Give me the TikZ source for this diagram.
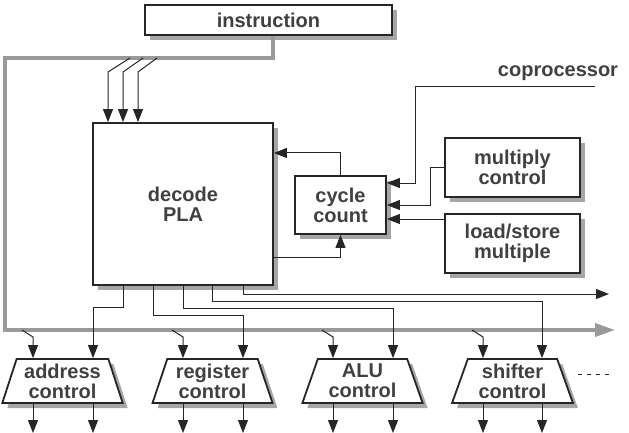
\documentclass[tikz,border=0pt]{standalone}
\usepackage{fontspec}
\setmainfont{Liberation Sans}
\usetikzlibrary{positioning,shapes.geometric,shadows,arrows.meta}

\tikzstyle{block} = [rectangle, draw=black!85, line width=1.8pt, fill=white, align=center, inner sep=0pt, drop shadow={shadow xshift=5pt, shadow yshift=-5pt, fill=black!35, opacity=1}]
\tikzstyle{tblock} = [trapezium, trapezium left angle=71, trapezium right angle=71, trapezium stretches=true, draw=black!85, line width=1.8pt, fill=white, align=center, inner sep=0pt, minimum width=121pt, minimum height=44pt, drop shadow={shadow xshift=5pt, shadow yshift=-5pt, fill=black!35, opacity=1}]
\tikzstyle{arrow} = [black!85, line width=1pt, -{Triangle[length=13pt,width=10pt]}]
\tikzstyle{bus} = [black!40, line width=3.5pt]

\begin{document}
\begin{tikzpicture}[x=1pt, y=-1pt, node distance=15pt, font=\fontsize{20}{20}\selectfont\bfseries, text=black!75]
    \useasboundingbox (0,0) rectangle (629,433);

    \node (node1) [block, minimum width=247pt, minimum height=30pt] at (268.5,20) {instruction};
    \node (node2) [block, minimum width=180pt, minimum height=162pt] at (183,204) {decode\\PLA};
    \node (node3) [block, minimum width=91pt, minimum height=58pt] at (340.5,205) {cycle\\count};
    \node (node4) [block, minimum width=135pt, minimum height=59pt] at (512.5,167.5) {multiply\\control};
    \node (node5) [block, minimum width=135pt, minimum height=59pt, below = of node4] {load/store\\multiple};
    \node (node6) at (558,73) {coprocessor};

    \node (node7) [tblock] at (62.5,381) {address\\control};
    \node (node8) [tblock] at (212.5,381) {register\\control};
    \node (node9) [tblock] at (362.5,381) {ALU\\control};
    \node (node10) [tblock] at (512.5,381) {shifter\\control};

    % instruction bus
    \draw [bus, -{Triangle[length=20pt,width=13pt]}] ([xshift=4.5pt]node1.south) -- (273,58) -- (5,58) -- (5,330) -- (615,330);

    \coordinate (t1) at (130,58);
    \coordinate (t2) at (143,58);
    \coordinate (t3) at (157,58);
    \draw [arrow] (t1) -- (108,72) -- (108,0 |- node2.north);
    \draw [arrow] (t2) -- (123,72) -- (123,0 |- node2.north);
    \draw [arrow] (t3) -- (138,72) -- (138,0 |- node2.north);

    % cycle count
    \coordinate (cop) at (595,87);
    \draw [arrow] (node3.north) |- (node2.east |- 0,153);
    \draw [arrow] (node2.east |- 0,257) -| (node3.south);
    \draw [arrow] (cop) -- (415,87) |- (node3.east |- 0,183);
    \draw [arrow] (node4.west) -- ++(-14,0) |- (node3.east |- 0,205);
    \draw [arrow] (node5.west |- 0,219) -- (node3.east |- 0,219);

    % decode outputs
    \coordinate (out) at (609,294);
    \draw [arrow] (123,0 |- node2.south) |- (93,307) -- (93,0 |- node7.north);
    \draw [arrow] (153,0 |- node2.south) |- (243,315) -- (243,0 |- node8.north);
    \draw [arrow] (183,0 |- node2.south) |- (393,308) -- (393,0 |- node9.north);
    \draw [arrow] (212,0 |- node2.south) |- (542,301) -- (542,0 |- node10.north);
    \draw [arrow] (243,0 |- node2.south) |- (out);

    % bus taps
    \coordinate (b1) at (22,330);
    \coordinate (b2) at (172,330);
    \coordinate (b3) at (322,330);
    \coordinate (b4) at (472,330);
    \draw [arrow] (b1) -- (33,337) -- (33,0 |- node7.north);
    \draw [arrow] (b2) -- (183,337) -- (183,0 |- node8.north);
    \draw [arrow] (b3) -- (333,337) -- (333,0 |- node9.north);
    \draw [arrow] (b4) -- (483,337) -- (483,0 |- node10.north);

    % control outputs
    \draw [arrow] (33,0 |- node7.south) -- (33,433);
    \draw [arrow] (93,0 |- node7.south) -- (93,433);
    \draw [arrow] (183,0 |- node8.south) -- (183,433);
    \draw [arrow] (243,0 |- node8.south) -- (243,433);
    \draw [arrow] (333,0 |- node9.south) -- (333,433);
    \draw [arrow] (393,0 |- node9.south) -- (393,433);
    \draw [arrow] (483,0 |- node10.south) -- (483,433);
    \draw [arrow] (542,0 |- node10.south) -- (542,433);

    \draw [black!85, line width=1pt, dash pattern=on 4pt off 5pt] (578,374) -- (612,374);
\end{tikzpicture}
\end{document}
